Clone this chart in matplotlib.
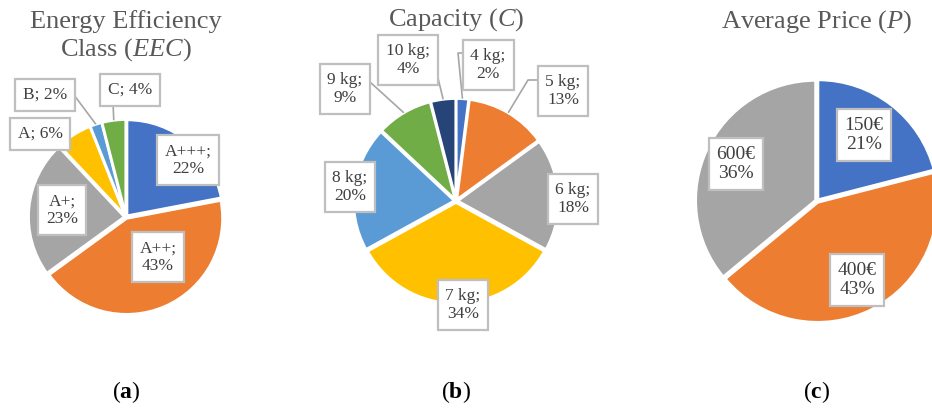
import matplotlib
matplotlib.use("Agg")
import matplotlib.pyplot as plt
import numpy as np

plt.rcParams['font.family'] = ['Liberation Serif', 'DejaVu Serif']
plt.rcParams['mathtext.fontset'] = 'custom'
plt.rcParams['mathtext.rm'] = 'Liberation Serif'
plt.rcParams['mathtext.it'] = 'Liberation Serif:italic'
plt.rcParams['mathtext.bf'] = 'Liberation Serif:bold'

# data
eec_classes = ['A+++', 'A++', 'A+', 'A', 'B', 'C']
eec_share = [22, 43, 23, 6, 2, 4]

cap_sizes = ['4 kg', '5 kg', '6 kg', '7 kg', '8 kg', '9 kg', '10 kg']
cap_share = [2, 13, 18, 34, 20, 9, 4]

price_levels = ['150€', '400€', '600€']
price_share = [21, 43, 36]

# colours (office palette)
col_eec = ['#4472C4', '#ED7D31', '#A5A5A5', '#FFC000', '#5B9BD5', '#70AD47']
col_cap = ['#4472C4', '#ED7D31', '#A5A5A5', '#FFC000', '#5B9BD5', '#70AD47', '#264478']
col_price = ['#4472C4', '#ED7D31', '#A5A5A5']

W, H = 932, 408
fig = plt.figure(figsize=(W / 100, H / 100), dpi=100)
ax = fig.add_axes([0, 0, 1, 1])


def fy(y):
    # pixel rows run downwards, data y upwards
    return H - y


def draw_pie(values, colors, cx, cy, r):
    wedges, _ = ax.pie(values, colors=colors, center=(cx, fy(cy)), radius=r,
                       startangle=90, counterclock=False,
                       explode=[1.5] * len(values),
                       wedgeprops=dict(edgecolor='white', linewidth=2))
    return wedges


def edge_point(w, frac=1.0):
    ang = np.deg2rad(0.5 * (w.theta1 + w.theta2))
    cx, cy = w.center
    return cx + frac * w.r * np.cos(ang), cy + frac * w.r * np.sin(ang)


def put_label(txt, x, y, size, pad=0.45):
    ax.text(x, fy(y), txt, ha='center', va='center', fontsize=size,
            color='#404040', linespacing=1.12, zorder=5,
            bbox=dict(boxstyle=f'square,pad={pad}', fc='white', ec='#BFBFBF', lw=1.6))


def leader(w, anchor, elbow=None):
    tx, ty = edge_point(w)
    xs = [anchor[0]]
    ys = [fy(anchor[1])]
    if elbow is not None:
        xs.append(elbow[0])
        ys.append(fy(elbow[1]))
    xs.append(tx)
    ys.append(ty)
    ax.plot(xs, ys, color='#A6A6A6', lw=1.2, zorder=3, solid_capstyle='butt')


# (a) energy efficiency class
wa = draw_pie(eec_share, col_eec, 126, 217, 96)
sep_a = ['\n', '\n', '\n', ' ', ' ', ' ']
pos_a = [(188, 160), (158, 257), (62, 210), (40, 134), (45, 95), (130, 90)]
leader(wa[4], (74, 95))
leader(wa[5], (113, 103))
for name, v, s, (x, y) in zip(eec_classes, eec_share, sep_a, pos_a):
    put_label(f'{name};{s}{v}%', x, y, 12.5)

# (b) capacity
wb = draw_pie(cap_share, col_cap, 456, 201, 101)
pos_b = [(488, 65), (563, 91), (573, 199), (463, 305), (350, 187), (345, 89), (408, 60)]
leader(wb[0], (468, 53), (458, 53))
leader(wb[1], (538, 80), (528, 80))
leader(wb[5], (370, 82))
leader(wb[6], (438, 78))
for name, v, (x, y) in zip(cap_sizes, cap_share, pos_b):
    put_label(f'{name};\n{v}%', x, y, 12.5)

# (c) average price
wc = draw_pie(price_share, col_price, 817, 201, 120)
pos_c = [(864, 135), (857, 280), (736, 164)]
for name, v, (x, y) in zip(price_levels, price_share, pos_c):
    put_label(f'{name}\n{v}%', x, y, 14, pad=0.4)

# titles
tcol = '#595959'
ax.text(126, fy(22), 'Energy Efficiency', ha='center', va='center', fontsize=19, color=tcol)
ax.text(126, fy(50), 'Class ($EEC$)', ha='center', va='center', fontsize=19, color=tcol)
ax.text(456, fy(20), 'Capacity ($C$)', ha='center', va='center', fontsize=19, color=tcol)
ax.text(817, fy(22), 'Average Price ($P$)', ha='center', va='center', fontsize=19, color=tcol)

# panel captions
for x, letter in [(126, 'a'), (456, 'b'), (817, 'c')]:
    ax.text(x, fy(392), f'($\\mathbf{{{letter}}}$)', ha='center', va='center',
            fontsize=17, color='black')

ax.set_xlim(0, W)
ax.set_ylim(0, H)
ax.set_aspect('equal', adjustable='box')
ax.axis('off')

fig.savefig('out.png', dpi=100)
